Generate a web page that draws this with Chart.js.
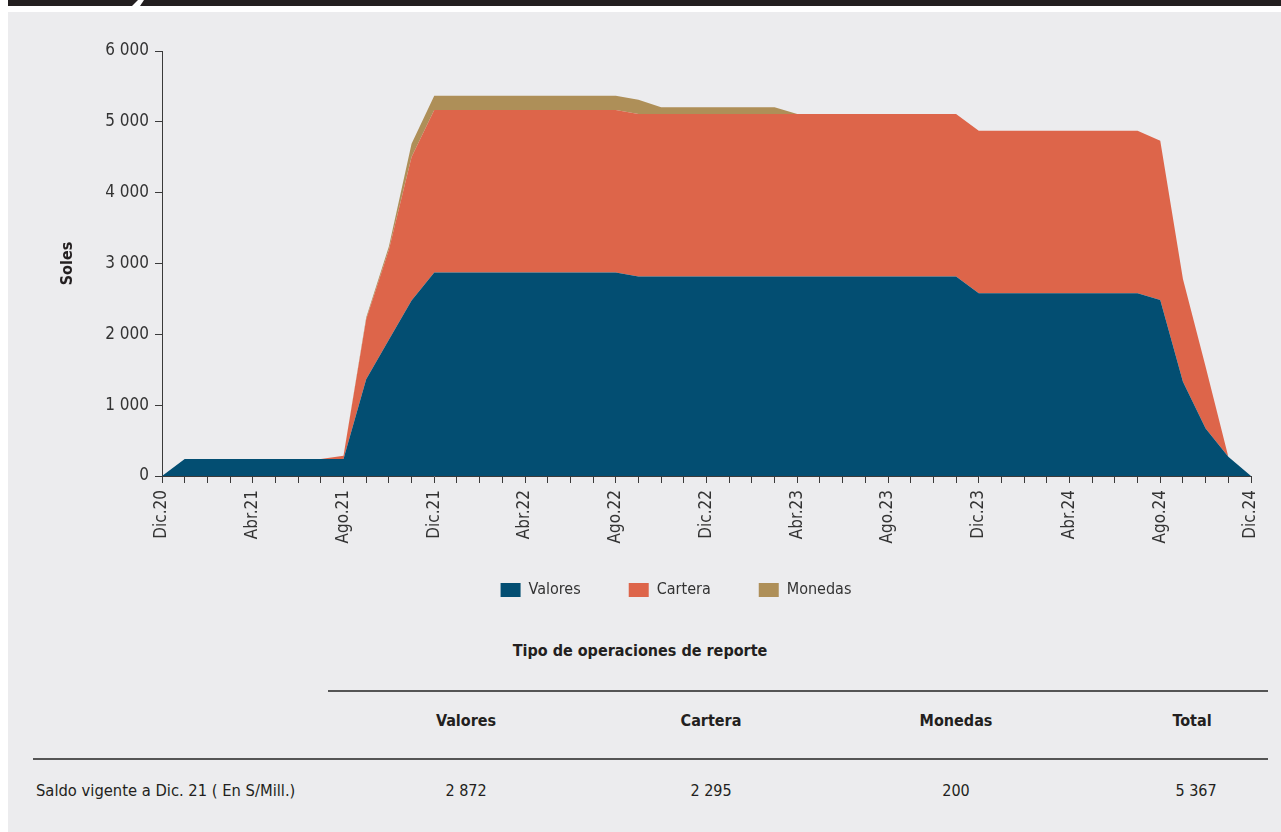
<!DOCTYPE html>
<html>
<head>
<meta charset="utf-8">
<script src="https://cdn.jsdelivr.net/npm/chart.js@4/dist/chart.umd.min.js"></script>
<style>
  html, body { margin: 0; padding: 0; background: #ffffff; }
  body { width: 1281px; height: 832px; position: relative; overflow: hidden; color: #231f20; }
  #topbar { position: absolute; left: 8px; top: 0; width: 1273px; height: 6px; background: #231f20; }
  #slash { position: absolute; left: 0; top: 0; width: 1281px; height: 6px; background: #ffffff;
           clip-path: polygon(138px 0, 144px 0, 140px 6px, 132px 6px); }
  #panel { position: absolute; left: 8px; top: 12px; width: 1273px; height: 820px; background: #ececee; }
  #chartwrap { position: absolute; left: 0; top: 0; width: 1281px; height: 630px; }
  .t { position: absolute; font-size: 16px; white-space: nowrap; line-height: 20px; }
  .b { font-weight: bold; }
  .c { transform: translateX(-50%); }
  .hr { position: absolute; height: 2px; background: #555; }
</style>
</head>
<body>
<div id="topbar"></div>
<div id="slash"></div>
<div id="panel"></div>
<div id="chartwrap"><canvas id="c" width="1281" height="630"></canvas></div>

<div id="tbl"></div>

<script>
// ---- data ----
const months = [
  'Dic.20','Ene.21','Feb.21','Mar.21','Abr.21','May.21','Jun.21','Jul.21','Ago.21','Set.21','Oct.21','Nov.21',
  'Dic.21','Ene.22','Feb.22','Mar.22','Abr.22','May.22','Jun.22','Jul.22','Ago.22','Set.22','Oct.22','Nov.22',
  'Dic.22','Ene.23','Feb.23','Mar.23','Abr.23','May.23','Jun.23','Jul.23','Ago.23','Set.23','Oct.23','Nov.23',
  'Dic.23','Ene.24','Feb.24','Mar.24','Abr.24','May.24','Jun.24','Jul.24','Ago.24','Set.24','Oct.24','Nov.24',
  'Dic.24'
];
const valores = [
  0, 240, 240, 240, 240, 240, 240, 240, 240, 1366, 1922, 2478,
  2872, 2872, 2872, 2872, 2872, 2872, 2872, 2872, 2872, 2816, 2816, 2816,
  2816, 2816, 2816, 2816, 2816, 2816, 2816, 2816, 2816, 2816, 2816, 2816,
  2580, 2580, 2580, 2580, 2580, 2580, 2580, 2580, 2486, 1332, 672, 273,
  0
];
const cartera = [
  0, 0, 0, 0, 0, 0, 0, 0, 45, 848, 1272, 2025,
  2295, 2295, 2295, 2295, 2295, 2295, 2295, 2295, 2295, 2295, 2295, 2295,
  2295, 2295, 2295, 2295, 2295, 2295, 2295, 2295, 2295, 2295, 2295, 2295,
  2295, 2295, 2295, 2295, 2295, 2295, 2295, 2295, 2246, 1450, 872, 0,
  0
];
const monedas = [
  0, 0, 0, 0, 0, 0, 0, 0, 0, 25, 45, 188,
  200, 200, 200, 200, 200, 200, 200, 200, 200, 200, 95, 95,
  95, 95, 95, 95, 0, 0, 0, 0, 0, 0, 0, 0,
  0, 0, 0, 0, 0, 0, 0, 0, 0, 0, 0, 0,
  0
];
const seriesNames = ['Valores', 'Cartera', 'Monedas'];
const seriesColors = ['#034e72', '#dd654a', '#ae8f58'];
const yTicks = [0, 1000, 2000, 3000, 4000, 5000, 6000];
const yTitle = 'Soles';

const tableTitle = 'Tipo de operaciones de reporte';
const tableHeaders = ['Valores', 'Cartera', 'Monedas', 'Total'];
const rowLabel = 'Saldo vigente a Dic. 21 ( En S/Mill.)';
const rowValues = ['2 872', '2 295', '200', '5 367'];

// ---- font pick ----
function pickFont(cands) {
  const ctx = document.createElement('canvas').getContext('2d');
  const s = 'Valores 6 000 Saldo vigente Dic.21';
  ctx.font = '40px monospace'; const m = ctx.measureText(s).width;
  ctx.font = '40px serif'; const se = ctx.measureText(s).width;
  for (const f of cands) {
    ctx.font = '40px "' + f + '", monospace'; const a = ctx.measureText(s).width;
    ctx.font = '40px "' + f + '", serif'; const b = ctx.measureText(s).width;
    if (a !== m || b !== se) return f;
  }
  return 'sans-serif';
}
const FONT = pickFont(['DejaVu Sans Condensed', 'Liberation Sans Narrow', 'Roboto Condensed', 'Roboto']);
document.body.style.fontFamily = '"' + FONT + '", sans-serif';

// ---- table (HTML text) ----
const tbl = document.getElementById('tbl');
function addText(txt, x, y, cls, size) {
  const d = document.createElement('div');
  d.className = 't ' + (cls || '');
  d.textContent = txt;
  d.style.left = x + 'px';
  d.style.top = (y - 10) + 'px';
  if (size) d.style.fontSize = size + 'px';
  tbl.appendChild(d);
}
function addLine(x1, x2, y) {
  const d = document.createElement('div');
  d.className = 'hr';
  d.style.left = x1 + 'px'; d.style.width = (x2 - x1) + 'px'; d.style.top = (y - 1) + 'px';
  tbl.appendChild(d);
}
const colX = [466, 711, 956, 1192];
addText(tableTitle, 640, 651, 'b c');
addLine(328, 1268, 691);
tableHeaders.forEach((h, i) => addText(h, colX[i], 721, 'b c'));
addLine(33, 1268, 759);
addText(rowLabel, 36, 791, '', 16.4);
rowValues.forEach((v, i) => addText(v, colX[i] + (i === 3 ? 4 : 0), 791, 'c'));

// ---- chart ----
const fmt = v => String(v).replace(/\B(?=(\d{3})+(?!\d))/g, ' ');
const txtColor = '#333333';
const axisColor = '#3a3a3a';

const legendPlace = {
  id: 'legendPlace',
  afterLayout(chart) {
    const lg = chart.legend;
    if (lg) {
      const h = lg.bottom - lg.top;
      lg.left = 676 * 2 - lg.right;
      lg.top = 534;
      lg.bottom = 534 + h;
    }
  }
};

new Chart(document.getElementById('c'), {
  type: 'line',
  data: {
    labels: months,
    datasets: [valores, cartera, monedas].map((d, i) => ({
      label: seriesNames[i],
      data: d,
      backgroundColor: seriesColors[i],
      borderColor: 'transparent',
      borderWidth: 0,
      pointRadius: 0,
      pointHoverRadius: 0,
      tension: 0,
      fill: i === 0 ? 'origin' : '-1'
    }))
  },
  options: {
    responsive: false,
    animation: false,
    events: [],
    layout: { padding: { left: 0, right: 30, top: 51, bottom: 0 } },
    plugins: {
      tooltip: { enabled: false },
      legend: {
        position: 'bottom',
        fullSize: true,
        labels: {
          boxWidth: 20,
          boxHeight: 14,
          padding: 48,
          color: txtColor,
          font: { family: FONT, size: 16 }
        }
      }
    },
    scales: {
      x: {
        type: 'category',
        offset: false,
        afterFit: s => { s.height = 80; },
        grid: { display: true, drawOnChartArea: false, drawTicks: true, tickLength: 7, color: axisColor, lineWidth: 1 },
        border: { display: true, color: axisColor, width: 1 },
        ticks: {
          autoSkip: false,
          maxRotation: 90,
          minRotation: 90,
          padding: 7,
          color: txtColor,
          font: { family: FONT, size: 17 },
          callback: function (v, i) { return i % 4 === 0 ? this.getLabelForValue(v) : ''; }
        }
      },
      y: {
        stacked: true,
        min: 0,
        max: 6000,
        afterFit: s => { s.width = 162; },
        afterBuildTicks: s => { s.ticks = yTicks.map(v => ({ value: v })); },
        grid: { display: true, drawOnChartArea: false, drawTicks: true, tickLength: 7, color: axisColor, lineWidth: 1 },
        border: { display: true, color: axisColor, width: 1 },
        ticks: {
          padding: 6,
          color: txtColor,
          font: { family: FONT, size: 17 },
          callback: v => fmt(v)
        },
        title: {
          display: true,
          text: yTitle,
          color: '#231f20',
          font: { family: FONT, size: 16, weight: 'bold' },
          padding: { top: 58, bottom: 0 }
        }
      }
    }
  },
  plugins: [legendPlace]
});
</script>
</body>
</html>
